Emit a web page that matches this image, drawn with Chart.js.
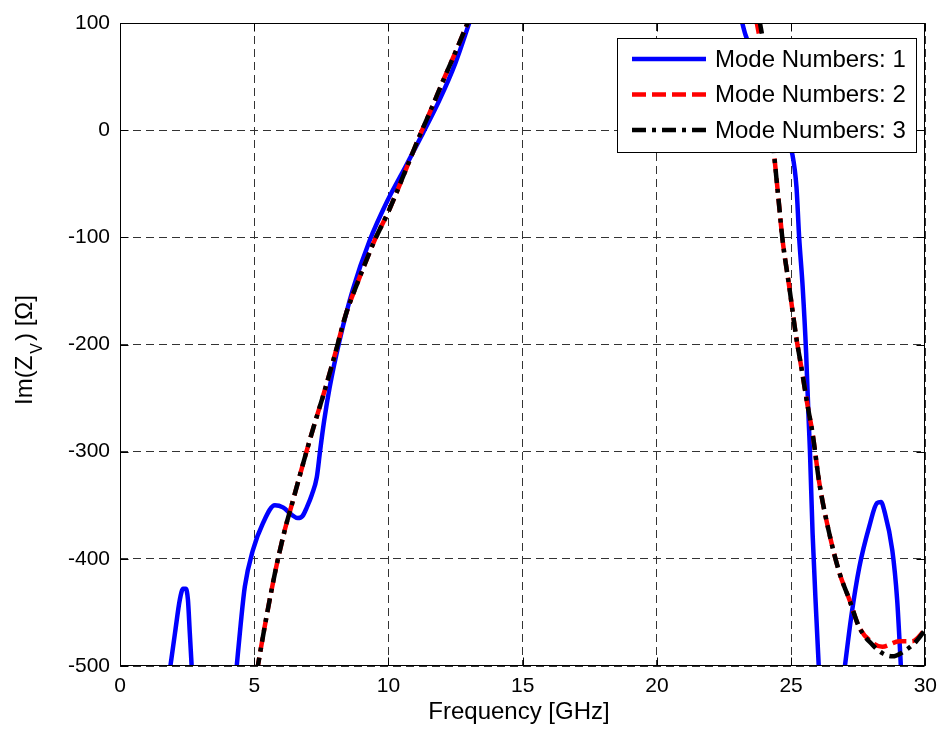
<!DOCTYPE html>
<html lang="en">
<head>
  <meta charset="UTF-8" />
  <title>Im(Zv) vs Frequency</title>
  <script src="https://cdn.jsdelivr.net/npm/chart.js"></script>
  <style>
    html, body { margin: 0; padding: 0; background: #fff; }
    #wrap { width: 945px; height: 734px; }
  </style>
</head>
<body>
  <div id="wrap"><canvas id="zvChart" width="945" height="734"></canvas></div>

  <script>
    // ticks
    const xTicks = [0, 5, 10, 15, 20, 25, 30];
    const yTicks = [-500, -400, -300, -200, -100, 0, 100];

    // Mode 1 (null = break in the curve)
    const freqMode1 = [1.85, 2.05, 2.23, 2.35, 2.45, 2.53, 2.6, 2.68,
      3.5,
      4.33, 4.5, 4.65, 4.95, 5.32, 5.77, 6.07, 6.4, 6.62, 6.8, 6.96, 7.15, 7.33, 7.45, 7.6, 7.81,
      8.19, 8.67, 9.3, 9.94, 10.68, 11.28, 11.9, 12.5, 13.05,
      18,
      23.15, 23.3, 24.2, 25.05, 25.2, 25.3, 25.43, 25.56, 25.65, 25.7, 25.8, 25.94, 26.04,
      26.5,
      26.98, 27.24, 27.54, 27.91, 28.2, 28.35, 28.47, 28.77, 28.95, 29.1];
    const imMode1 = [-505, -469, -438, -428, -428, -438, -469, -505,
      null,
      -505, -460, -426, -392, -367, -350, -352, -359, -362, -360, -352, -340, -324, -300, -272, -240,
      -195, -149, -103, -67, -32, -3, 28, 63, 103,
      null,
      103, 89, 35, -23, -53, -100, -146, -208, -268, -298, -376, -454, -505,
      null,
      -505, -454, -408, -370, -348, -347, -355, -392, -438, -505];

    // Mode 2
    const freqMode2 = [5.1, 5.45, 5.8, 6.15, 6.45, 6.8, 7.2, 7.6, 8.0, 8.4, 8.9, 9.5, 10.0, 10.5,
      11.15, 11.6, 12.0, 12.5, 13.0,
      18,
      23.7, 23.9, 24.38, 24.56, 24.67, 24.93, 25.19, 25.42, 25.6, 25.8, 26.05, 26.42, 26.8, 27.17,
      27.54, 28.02, 28.4, 29.03, 29.5, 30];
    const imMode2 = [-505, -455, -410, -372, -345, -313, -278, -245, -210, -173, -139, -102, -76, -46,
      -6, 20, 44, 73, 103,
      null,
      103, 75, -26, -72, -100, -146, -193, -227, -255, -283, -329, -376, -413, -438,
      -464, -478, -482, -477, -477, -466];

    // Mode 3
    const freqMode3 = [5.1, 5.45, 5.8, 6.15, 6.45, 6.8, 7.2, 7.6, 8.0, 8.4, 8.9, 9.5, 10.0, 10.5,
      11.15, 11.6, 12.0, 12.5, 13.0,
      18,
      23.82, 24.0, 24.38, 24.56, 24.67, 24.93, 25.19, 25.42, 25.6, 25.8, 26.05, 26.42, 26.8, 27.17,
      27.54, 28.02, 28.4, 28.77, 29.28, 29.66, 30];
    const imMode3 = [-505, -455, -410, -372, -345, -313, -278, -245, -210, -173, -139, -102, -76, -46,
      -6, 20, 44, 73, 103,
      null,
      103, 75, -26, -72, -100, -146, -193, -227, -255, -283, -329, -376, -413, -438,
      -464, -480, -488, -491, -485, -477, -466];

    const FONT = "'Liberation Sans', Arial, sans-serif";

    function toPoints(xs, ys) {
      return xs.map((x, i) => ({ x: x, y: ys[i] }));
    }

    // frame, inward ticks, axis titles and legend box
    const extras = {
      id: 'extras',
      afterDraw(chart) {
        const { ctx, chartArea: a, scales } = chart;
        const L = Math.round(a.left) + 0.5, R = Math.round(a.right) - 0.5;
        const T = Math.round(a.top) + 0.5, B = Math.round(a.bottom) - 0.5;
        ctx.save();
        ctx.strokeStyle = '#000';
        ctx.lineWidth = 1;
        ctx.setLineDash([]);
        ctx.strokeRect(L, T, R - L, B - T);

        // ticks pointing inward
        ctx.beginPath();
        xTicks.forEach(v => {
          const px = Math.round(scales.x.getPixelForValue(v)) + 0.5;
          ctx.moveTo(px, B); ctx.lineTo(px, B - 8);
          ctx.moveTo(px, T); ctx.lineTo(px, T + 8);
        });
        yTicks.forEach(v => {
          const py = Math.round(scales.y.getPixelForValue(v)) + 0.5;
          ctx.moveTo(L, py); ctx.lineTo(L + 8, py);
          ctx.moveTo(R, py); ctx.lineTo(R - 8, py);
        });
        ctx.stroke();

        // x title
        ctx.fillStyle = '#000';
        ctx.font = '24px ' + FONT;
        ctx.textAlign = 'center';
        ctx.textBaseline = 'alphabetic';
        ctx.fillText('Frequency [GHz]', 519, 719);

        // y title with subscript
        const big = '24px ' + FONT, small = '16px ' + FONT;
        ctx.font = big;
        const p1 = 'Im(Z', p3 = ') [Ω]';
        const w1 = ctx.measureText(p1).width, w3 = ctx.measureText(p3).width;
        ctx.font = small;
        const w2 = ctx.measureText('V').width;
        const total = w1 + w2 + w3 + 4;
        ctx.translate(32, 350);
        ctx.rotate(-Math.PI / 2);
        ctx.textAlign = 'left';
        let cx = -total / 2;
        ctx.font = big;
        ctx.fillText(p1, cx, 0);
        cx += w1 + 2;
        ctx.font = small;
        ctx.fillText('V', cx, 10);
        cx += w2 + 2;
        ctx.font = big;
        ctx.fillText(p3, cx, 0);
        ctx.setTransform(1, 0, 0, 1, 0, 0);

        // legend
        const lx = 617, ly = 38, lw = 299, lh = 114;
        ctx.fillStyle = '#fff';
        ctx.fillRect(lx, ly, lw, lh);
        ctx.strokeStyle = '#000';
        ctx.lineWidth = 1;
        ctx.strokeRect(lx + 0.5, ly + 0.5, lw, lh);
        ctx.font = '24px ' + FONT;
        ctx.textBaseline = 'middle';
        ctx.textAlign = 'left';
        chart.data.datasets.forEach((ds, i) => {
          const yy = 59 + i * 35.5;
          ctx.beginPath();
          ctx.strokeStyle = ds.borderColor;
          ctx.lineWidth = ds.borderWidth;
          ctx.setLineDash(ds.borderDash || []);
          ctx.moveTo(632, yy);
          ctx.lineTo(706, yy);
          ctx.stroke();
          ctx.setLineDash([]);
          ctx.fillStyle = '#000';
          ctx.fillText(ds.label, 715, yy + 1);
        });
        ctx.restore();
      }
    };

    const chart = new Chart(document.getElementById('zvChart').getContext('2d'), {
      type: 'line',
      data: {
        datasets: [
          {
            label: 'Mode Numbers: 1',
            data: toPoints(freqMode1, imMode1),
            borderColor: '#0000ff',
            borderWidth: 4.5,
            order: 3
          },
          {
            label: 'Mode Numbers: 2',
            data: toPoints(freqMode2, imMode2),
            borderColor: '#ff0000',
            borderWidth: 4.5,
            borderDash: [14, 6],
            order: 2
          },
          {
            label: 'Mode Numbers: 3',
            data: toPoints(freqMode3, imMode3),
            borderColor: '#000000',
            borderWidth: 4.5,
            borderDash: [14, 6, 4, 6],
            order: 1
          }
        ]
      },
      options: {
        responsive: false,
        animation: false,
        spanGaps: false,
        clip: 0,
        elements: {
          point: { radius: 0 },
          line: { cubicInterpolationMode: 'monotone', fill: false }
        },
        layout: { padding: { left: 0, right: 19, top: 23, bottom: 0 } },
        plugins: {
          legend: { display: false },
          tooltip: { enabled: false }
        },
        scales: {
          x: {
            type: 'linear',
            min: 0,
            max: 30,
            afterBuildTicks: s => { s.ticks = xTicks.map(v => ({ value: v })); },
            afterFit: s => { s.height = 68; },
            grid: { color: '#333', lineWidth: 1, drawTicks: false },
            border: { display: false, dash: [8, 5] },
            ticks: {
              color: '#000',
              font: { family: FONT, size: 21 },
              padding: 8,
              maxRotation: 0,
              callback: v => String(v)
            }
          },
          y: {
            type: 'linear',
            min: -500,
            max: 100,
            afterBuildTicks: s => { s.ticks = yTicks.map(v => ({ value: v })); },
            afterFit: s => { s.width = 120; },
            grid: { color: '#333', lineWidth: 1, drawTicks: false },
            border: { display: false, dash: [8, 5] },
            ticks: {
              color: '#000',
              font: { family: FONT, size: 21 },
              padding: 10,
              callback: v => String(v)
            }
          }
        }
      },
      plugins: [extras]
    });
  </script>
</body>
</html>
